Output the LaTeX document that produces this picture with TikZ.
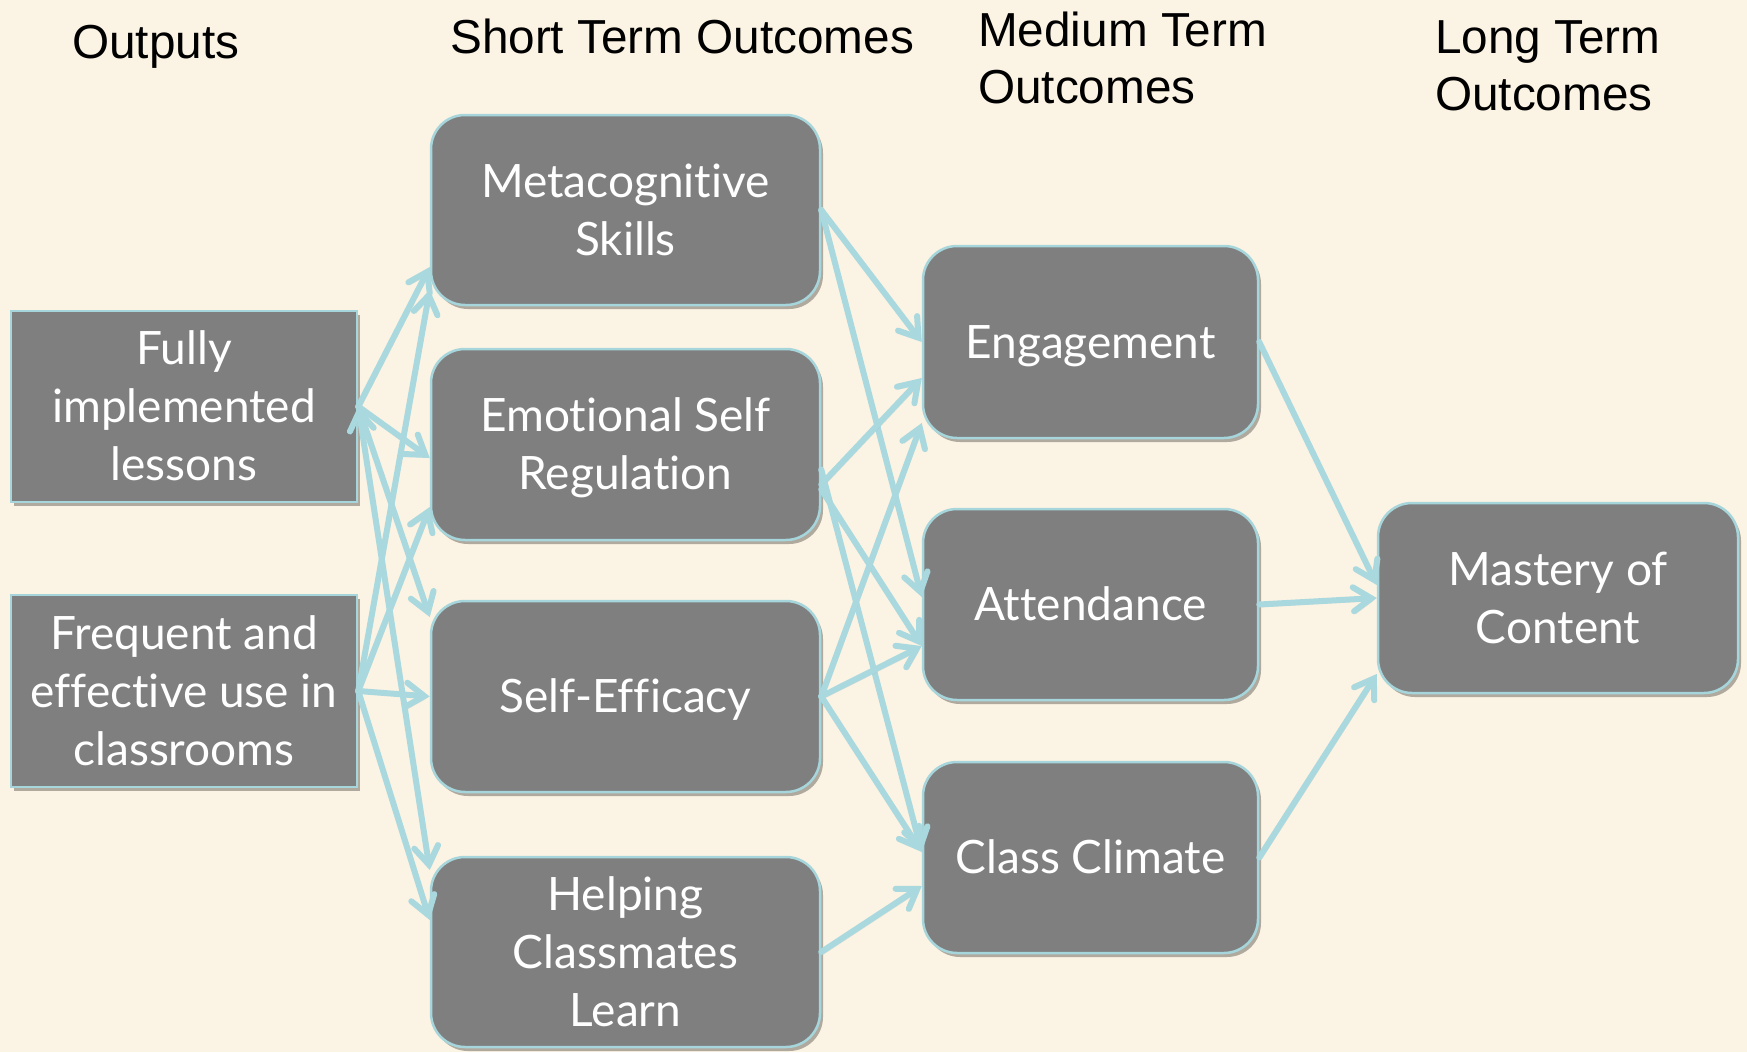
\documentclass[tikz,border=0pt]{standalone}
\usepackage{fontspec}
\setmainfont{Liberation Sans}
\newfontfamily\boxfont[Ligatures={NoCommon}]{Lato}
\usetikzlibrary{arrows.meta,shadows}
\definecolor{paper}{HTML}{FBF3E3}
\definecolor{boxgray}{HTML}{7F7F7F}
\definecolor{edgeblue}{HTML}{A6D6DC}
\definecolor{linkblue}{HTML}{A9D9DF}
\tikzset{barb/.tip={Straight Barb[length=18pt,width=24pt,line cap=round]}}
% fixed line height so that every box centres its text the same way
\newcommand\topstrut{\rule[0pt]{0pt}{48pt}}
\newcommand\botstrut{\rule[-16pt]{0pt}{16pt}}

\begin{document}
\begin{tikzpicture}[x=1pt,y=-1pt,
  heading/.style={font=\fontsize{47.7}{57}\selectfont, text=black, inner sep=0pt, anchor=base west},
  outbox/.style={draw=edgeblue, line width=2.5pt, fill=boxgray, text=white,
    font=\boxfont\fontsize{46}{58}\selectfont, align=center, inner sep=0pt,
    drop shadow={shadow xshift=3pt, shadow yshift=-4pt, opacity=0.3, fill=black}},
  stbox/.style={outbox, rounded corners=34pt},
  link/.style={draw=linkblue, line width=6pt, line cap=round, -barb,
    preaction={draw=black, opacity=0.08, transform canvas={shift={(2pt,-2.5pt)}}}},
]
% page and background
\useasboundingbox (0,0) rectangle (1747,1052);
\fill[paper] (0,0) rectangle (1747,1052);

% column headings
\node[heading] (hout) at (72,58) {Outputs};
\node[heading] (hshort) at (450,53.5) {Short Term Outcomes};
\node[heading] (hmed1) at (978,46) {Medium Term};
\node[heading] (hmed2) at (978,103) {Outcomes};
\node[heading] (hlong1) at (1435,53) {Long Term};
\node[heading] (hlong2) at (1435,110) {Outcomes};

% outputs
\node[outbox, minimum width=346pt, minimum height=191pt] (fully) at (184,406.5) {\topstrut Fully\\implemented\\lessons\botstrut};
\node[outbox, minimum width=346pt, minimum height=192pt] (freq) at (184,691) {\topstrut Frequent and\\effective use in\\classrooms\botstrut};

% short term outcomes
\node[stbox, minimum width=389pt, minimum height=190pt] (meta) at (625.5,210) {\topstrut Metacognitive\\Skills\botstrut};
\node[stbox, minimum width=389pt, minimum height=191pt] (emo) at (625.5,444.5) {\topstrut Emotional Self\\Regulation\botstrut};
\node[stbox, minimum width=389pt, minimum height=191pt] (selfeff) at (625.5,696.5) {\topstrut Self-Efficacy\botstrut};
\node[stbox, minimum width=389pt, minimum height=190pt] (help) at (625.5,952) {\topstrut Helping\\Classmates\\Learn\botstrut};

% medium term outcomes
\node[stbox, minimum width=335pt, minimum height=192pt] (eng) at (1090.5,342) {\topstrut Engagement\botstrut};
\node[stbox, minimum width=335pt, minimum height=191pt] (att) at (1090.5,604.5) {\topstrut Attendance\botstrut};
\node[stbox, minimum width=335pt, minimum height=191pt] (clim) at (1090.5,857.5) {\topstrut Class Climate\botstrut};

% long term outcome
\node[stbox, minimum width=360pt, minimum height=190pt] (mast) at (1558,598) {\topstrut Mastery of\\Content\botstrut};

% outputs to short term outcomes
\draw[link] (fully.east) -- ([yshift=-57pt]meta.west);
\draw[link] (freq.east) -- ([yshift=-80pt]meta.west);
\draw[link] (fully.east) -- ([yshift=-13.5pt]emo.west);
\draw[link] (freq.east) -- ([yshift=-62.5pt]emo.west);
\draw[link] (fully.east) -- ([yshift=79.5pt]selfeff.west);
\draw[link] (freq.east) -- (selfeff.west);
\draw[link, barb-barb] (fully.east) -- ([yshift=82pt]help.west);
\draw[link] (freq.east) -- ([yshift=32pt]help.west);

% short term to medium term outcomes
\draw[link] (meta.east) -- (eng.west);
\draw[link] (meta.east) -- ([yshift=7.5pt]att.west);
\draw[link] ([yshift=-40pt]emo.east) -- ([yshift=-36pt]eng.west);
\draw[link] ([yshift=-45pt]emo.east) -- ([yshift=-41.5pt]att.west);
\draw[link] ([yshift=-25pt]emo.east) -- ([yshift=5.5pt]clim.west);
\draw[link] (selfeff.east) -- ([yshift=-81pt]eng.west);
\draw[link] (selfeff.east) -- ([yshift=-41.5pt]att.west);
\draw[link] (selfeff.east) -- ([yshift=5.5pt]clim.west);
\draw[link] (help.east) -- ([yshift=-28.5pt]clim.west);

% medium term to long term outcome
\draw[link] (eng.east) -- ([yshift=13pt]mast.west);
\draw[link] (att.east) -- (mast.west);
\draw[link] (clim.east) -- ([yshift=-76pt]mast.west);
\end{tikzpicture}
\end{document}
